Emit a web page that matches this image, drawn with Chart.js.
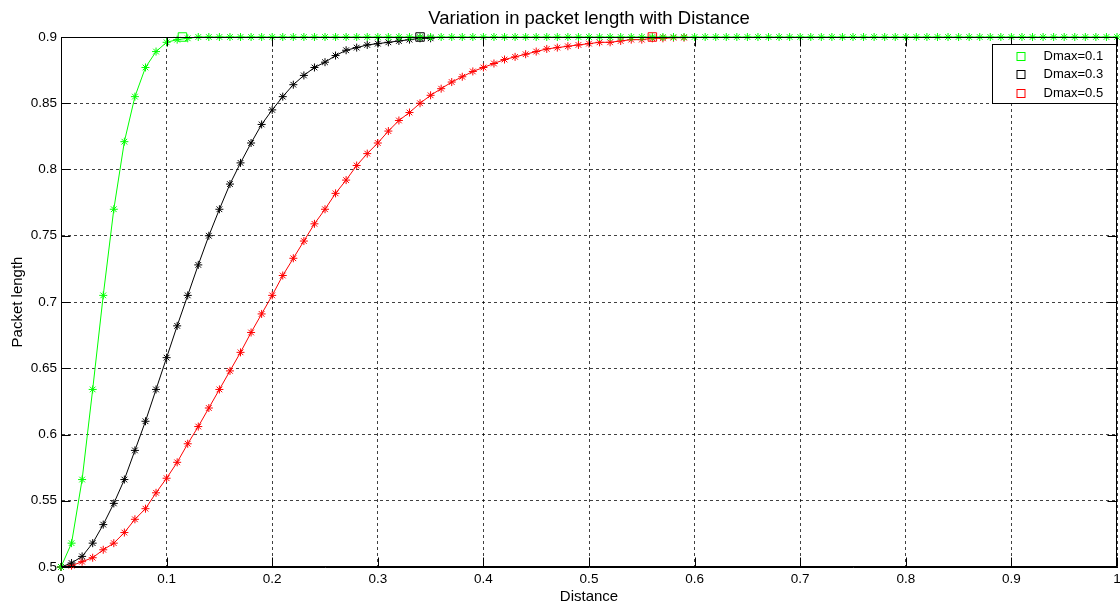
<!DOCTYPE html>
<html><head><meta charset="utf-8">
<script src="https://cdn.jsdelivr.net/npm/chart.js@4.4.1/dist/chart.umd.min.js"></script>
<style>html,body{margin:0;padding:0;background:#fff;}#wrap{width:1120px;height:606px;}</style>
</head><body><div id="wrap"><canvas id="c" width="1120" height="606"></canvas></div>
<script>
const distance = [
  0,0.01,0.02,0.03,0.04,0.05,0.06,0.07,0.08,0.09,
  0.10,0.11,0.12,0.13,0.14,0.15,0.16,0.17,0.18,0.19,
  0.20,0.21,0.22,0.23,0.24,0.25,0.26,0.27,0.28,0.29,
  0.30,0.31,0.32,0.33,0.34,0.35,0.36,0.37,0.38,0.39,
  0.40,0.41,0.42,0.43,0.44,0.45,0.46,0.47,0.48,0.49,
  0.50,0.51,0.52,0.53,0.54,0.55,0.56,0.57,0.58,0.59,
  0.60,0.61,0.62,0.63,0.64,0.65,0.66,0.67,0.68,0.69,
  0.70,0.71,0.72,0.73,0.74,0.75,0.76,0.77,0.78,0.79,
  0.80,0.81,0.82,0.83,0.84,0.85,0.86,0.87,0.88,0.89,
  0.90,0.91,0.92,0.93,0.94,0.95,0.96,0.97,0.98,0.99,
  1.00
];
const packetDmax01 = [
  0.5,0.518,0.566,0.634,0.705,0.770,0.821,0.855,0.877,0.889,
  0.896,0.898,0.899,0.9,0.9,0.9,0.9,0.9,0.9,0.9,
  0.9,0.9,0.9,0.9,0.9,0.9,0.9,0.9,0.9,0.9,
  0.9,0.9,0.9,0.9,0.9,0.9,0.9,0.9,0.9,0.9,
  0.9,0.9,0.9,0.9,0.9,0.9,0.9,0.9,0.9,0.9,
  0.9,0.9,0.9,0.9,0.9,0.9,0.9,0.9,0.9,0.9,
  0.9,0.9,0.9,0.9,0.9,0.9,0.9,0.9,0.9,0.9,
  0.9,0.9,0.9,0.9,0.9,0.9,0.9,0.9,0.9,0.9,
  0.9,0.9,0.9,0.9,0.9,0.9,0.9,0.9,0.9,0.9,
  0.9,0.9,0.9,0.9,0.9,0.9,0.9,0.9,0.9,0.9,
  0.9
];
const packetDmax03 = [
  0.5,0.503,0.508,0.518,0.532,0.548,0.566,0.588,0.610,0.634,
  0.658,0.682,0.705,0.728,0.750,0.770,0.789,0.805,0.820,0.834,
  0.845,0.855,0.864,0.871,0.877,0.881,0.886,0.890,0.892,0.894,
  0.895,0.896,0.897,0.898,0.899,0.899
];
const packetDmax05 = [
  0.5,0.501,0.504,0.507,0.513,0.518,0.526,0.536,0.544,0.556,
  0.567,0.579,0.593,0.606,0.620,0.634,0.648,0.662,0.677,0.691,
  0.705,0.720,0.733,0.746,0.759,0.770,0.782,0.792,0.803,0.812,
  0.820,0.829,0.837,0.843,0.850,0.856,0.861,0.866,0.870,0.874,
  0.877,0.880,0.883,0.885,0.887,0.889,0.891,0.892,0.893,0.894,
  0.895,0.896,0.896,0.897,0.898,0.898,0.899,0.899,0.8995,0.8995
];
const seriesLabels = ['Dmax=0.1','Dmax=0.3','Dmax=0.5'];
const seriesColors = ['#00ff00','#000000','#ff0000'];
const markerDistance = [0.115, 0.34, 0.56];
const markerPacket = [0.9, 0.9, 0.9];
const xTicks = [0,0.1,0.2,0.3,0.4,0.5,0.6,0.7,0.8,0.9,1];
const yTicks = [0.5,0.55,0.6,0.65,0.7,0.75,0.8,0.85,0.9];
const chartTitle = 'Variation in packet length with Distance';

const FONT = '"Liberation Sans", Arial, sans-serif';
Chart.defaults.font.family = FONT;
Chart.defaults.color = '#000';

function pts(xs, ys){ return ys.map((y,i)=>({x:xs[i], y:y})); }

const curves = [packetDmax01, packetDmax03, packetDmax05];
const datasets = [];
curves.forEach((ys, i) => {
  datasets.push({
    label: seriesLabels[i], data: pts(distance, ys), showLine: true,
    borderColor: seriesColors[i], backgroundColor: seriesColors[i],
    borderWidth: 1, pointStyle: 'star', pointRadius: 4, pointBorderWidth: 1,
    pointBorderColor: seriesColors[i], tension: 0, clip: false, order: i + 1
  });
});
seriesLabels.forEach((lab, i) => {
  datasets.push({
    label: lab, data: [{x: markerDistance[i], y: markerPacket[i]}], showLine: false,
    borderColor: seriesColors[i], backgroundColor: 'rgba(0,0,0,0)',
    pointStyle: 'rect', pointRadius: 6, pointBorderWidth: 1, clip: false, order: 0
  });
});

const RIGHT_GAP = 3;
const framePlugin = {
  id: 'frame',
  afterLayout(chart) {
    const a = chart.chartArea, xs = chart.scales.x;
    const target = chart.width - RIGHT_GAP;
    if (a.right !== target) {
      a.right = target; a.width = a.right - a.left;
      xs.right = target; xs.width = xs.right - xs.left;
      xs.configure();
      xs._gridLineItems = null; xs._labelItems = null;
      const ys = chart.scales.y; ys._gridLineItems = null;
    }
  },
  afterDraw(chart) {
    const ctx = chart.ctx, a = chart.chartArea;
    const xs = chart.scales.x, ys = chart.scales.y;
    ctx.save();
    ctx.fillStyle = '#000';
    ctx.font = '18.5px ' + FONT;
    ctx.textAlign = 'center'; ctx.textBaseline = 'middle';
    ctx.fillText(chartTitle, (a.left + a.right) / 2, 18.5);

    ctx.strokeStyle = '#000'; ctx.lineWidth = 1; ctx.setLineDash([]);
    const L = Math.round(a.left)+0.5, R = Math.round(a.right)-0.5, T = Math.round(a.top)+0.5, B = Math.round(a.bottom)-0.5;
    ctx.strokeRect(L, T, R-L, B-T);
    const tl = 9;
    ctx.beginPath();
    xTicks.forEach(v => {
      const px = Math.round(xs.getPixelForValue(v)) + 0.5;
      ctx.moveTo(px, B); ctx.lineTo(px, B - tl);
      ctx.moveTo(px, T); ctx.lineTo(px, T + tl);
    });
    yTicks.forEach(v => {
      const py = Math.round(ys.getPixelForValue(v)) + 0.5;
      ctx.moveTo(L, py); ctx.lineTo(L + tl, py);
      ctx.moveTo(R, py); ctx.lineTo(R - tl, py);
    });
    ctx.stroke();
    const lw = 124, lh = 59;
    const lx = Math.round(a.right) - lw - 0.5, ly = Math.round(a.top) + 7.5;
    ctx.fillStyle = '#fff';
    ctx.fillRect(lx, ly, lw, lh);
    ctx.strokeRect(lx, ly, lw, lh);
    ctx.font = '13px ' + FONT;
    ctx.textBaseline = 'middle'; ctx.textAlign = 'left';
    seriesLabels.forEach((lab, i) => {
      const cy = ly + 11.5 + i * 18.4;
      ctx.strokeStyle = seriesColors[i];
      ctx.strokeRect(lx + 24.5, Math.round(cy) - 4 + 0.5, 8, 8);
      ctx.fillStyle = '#000';
      ctx.fillText(lab, lx + 51, cy + 0.5);
    });
    ctx.restore();
  }
};

new Chart(document.getElementById('c'), {
  type: 'scatter',
  data: { datasets },
  options: {
    responsive: false, animation: false, events: [],
    layout: { padding: { left: 0, right: RIGHT_GAP, top: 37, bottom: 0 } },
    plugins: {
      legend: { display: false },
      tooltip: { enabled: false },
      title: { display: false }
    },
    scales: {
      x: {
        type: 'linear', min: 0, max: 1,
        afterBuildTicks: s => { s.ticks = xTicks.map(v => ({value: v})); },
        afterFit: s => { s.height = 39; s.paddingLeft = 0; s.paddingRight = 0; },
        ticks: { callback: v => String(v), font: { size: 13.5 }, color: '#000', padding: 4, maxRotation: 0 },
        grid: { color: 'rgba(0,0,0,0.75)', drawTicks: false, lineWidth: 1 },
        border: { display: true, color: '#000', dash: [3, 3] },
        title: { display: true, text: 'Distance', font: { size: 15 }, color: '#000', padding: { top: 0, bottom: 0 } }
      },
      y: {
        type: 'linear', min: 0.5, max: 0.9,
        afterBuildTicks: s => { s.ticks = yTicks.map(v => ({value: v})); },
        afterFit: s => { s.width = 61; s.paddingTop = 0; s.paddingBottom = 0; },
        ticks: { callback: v => String(v), font: { size: 13.5 }, color: '#000', padding: 4 },
        grid: { color: 'rgba(0,0,0,0.75)', drawTicks: false, lineWidth: 1 },
        border: { display: true, color: '#000', dash: [3, 3] },
        title: { display: true, text: 'Packet length', font: { size: 15 }, color: '#000', padding: { top: 9, bottom: 0 } }
      }
    }
  },
  plugins: [framePlugin]
});
</script></body></html>
